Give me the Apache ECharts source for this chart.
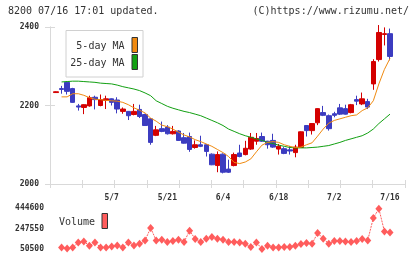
<!DOCTYPE html>
<html>
<head>
<meta charset="utf-8">
<script src="https://cdn.jsdelivr.net/npm/echarts@6/dist/echarts.min.js"></script>
<style>
  html, body { margin: 0; padding: 0; background: #fff; }
  #chart { width: 420px; height: 259px; }
</style>
</head>
<body>
<div id="chart"></div>
<script>
// trading days 2025/4/18 .. 7/16
const dates = ['4/18','4/21','4/22','4/23','4/24','4/25','4/28','4/30','5/1','5/2',
  '5/7','5/8','5/9','5/12','5/13','5/14','5/15','5/16','5/19','5/20',
  '5/21','5/22','5/23','5/26','5/27','5/28','5/29','5/30','6/2','6/3',
  '6/4','6/5','6/6','6/9','6/10','6/11','6/12','6/13','6/16','6/17',
  '6/18','6/19','6/20','6/23','6/24','6/25','6/26','6/27','6/30','7/1',
  '7/2','7/3','7/4','7/7','7/8','7/9','7/10','7/11','7/14','7/15','7/16']
const labelDates = ['5/7', '5/21', '6/4', '6/18', '7/2', '7/16']

const opens = [2233,2243,2259,2243,2199,2195,2199,2221,2200,2213,
  2217,2214,2185,2185,2177,2190,2177,2166,2124,2141,
  2145,2128,2135,2118,2121,2093,2100,2100,2076,2047,
  2076,2038,2047,2079,2075,2089,2109,2121,2109,2111,
  2089,2090,2087,2080,2093,2149,2136,2156,2182,2174,
  2179,2194,2192,2182,2215,2204,2210,2255,2317,2381,2383]
const closes = [2235,2241,2236,2208,2196,2202,2220,2215,2215,2217,
  2208,2191,2191,2174,2185,2172,2149,2106,2138,2134,
  2128,2134,2111,2104,2088,2100,2096,2083,2049,2075,
  2030,2030,2075,2070,2091,2119,2116,2109,2100,2094,
  2096,2078,2084,2094,2133,2136,2154,2192,2175,2141,
  2175,2178,2178,2202,2211,2217,2196,2312,2386,2383,2325]
const lows = [2232,2230,2228,2207,2187,2178,2197,2190,2198,2191,
  2200,2180,2179,2163,2175,2168,2148,2100,2122,2132,
  2126,2126,2110,2103,2082,2090,2094,2070,2048,2030,
  2027,2028,2045,2068,2073,2087,2100,2107,2090,2092,
  2075,2076,2075,2068,2092,2121,2126,2150,2173,2136,
  2170,2176,2177,2180,2201,2201,2191,2240,2312,2353,2315]
const highs = [2236,2250,2262,2245,2204,2203,2225,2225,2228,2225,
  2218,2221,2195,2186,2204,2202,2179,2168,2148,2159,
  2150,2148,2137,2130,2131,2111,2123,2102,2078,2083,
  2078,2062,2080,2100,2110,2130,2130,2131,2110,2128,
  2102,2094,2097,2100,2134,2150,2155,2193,2199,2177,
  2184,2204,2202,2204,2225,2233,2217,2318,2405,2399,2396]

const ma5 = ['-',2222,2222,2230,2230,2226,2220,2216,2215,2213,
  2212,2211,2208,2202,2194,2188,2181,2168,2160,2150,
  2146,2140,2132,2125,2120,2113,2108,2102,2096,2088,
  2080,2070,2055,2052,2056,2064,2082,2099,2106,2108,
  2106,2100,2096,2093,2094,2100,2105,2122,2140,2155,
  2162,2166,2170,2174,2176,2187,2194,2212,2255,2292,2320]
const ma25 = ['-',2260,2261,2262,2262,2261,2260,2259,2257,2256,
  2255,2252,2248,2245,2242,2238,2232,2225,2212,2205,
  2198,2193,2189,2185,2182,2178,2174,2168,2162,2156,
  2149,2140,2134,2128,2123,2119,2115,2111,2106,2103,
  2099,2096,2093,2092,2092,2092,2093,2094,2096,2098,
  2102,2106,2111,2115,2119,2123,2130,2140,2154,2166,2178]

const volumes = ['-',65900,56300,65900,113900,123600,82200,113900,65900,65900,
  75500,85100,65900,113900,85100,101400,133200,252400,133200,139900,
  117800,127400,139900,117800,226400,146600,117800,149900,165800,149500,
  139900,117800,117800,113900,101400,69700,113900,50500,82200,65900,
  65900,69700,69700,82200,98600,108200,101400,204300,149500,101400,
  127400,127400,123600,117800,127400,146600,133200,348500,437900,219700,210100]
const volTicks = [50500, 247550, 444600]

const candles = dates.map((d, i) => [opens[i], closes[i], lows[i], highs[i]])

const FONT = 'DejaVu Sans Mono'
const RED = '#d40000'
const BLUE = '#3c3cc0'
const ORANGE = '#f08a10'
const GREEN = '#12a012'
const VOL = '#ff5c5c'
const AXIS = '#d9d9d9'

const chart = echarts.init(document.getElementById('chart'), null, { renderer: 'canvas' })

const plain = v => String(v)

const tickX = (inside) => ({
  type: 'value', gridIndex: 1, position: 'bottom', min: 0, max: 11, interval: 1,
  axisLine: { show: true, lineStyle: { color: AXIS, width: 1 } },
  axisTick: { show: true, inside: inside, length: 4, lineStyle: { color: AXIS } },
  axisLabel: { show: false }, splitLine: { show: false }
})
const tickY = (inside, labels) => ({
  type: 'value', gridIndex: 1, position: 'left', min: 2000, max: 2400, interval: 200,
  axisLine: { show: true, lineStyle: { color: AXIS, width: 1 } },
  axisTick: { show: true, inside: inside, length: 5, lineStyle: { color: AXIS } },
  axisLabel: { show: labels, margin: 11, fontSize: 8, fontFamily: FONT, color: '#333', fontWeight: 'bold', formatter: plain },
  splitLine: { show: false }
})

chart.setOption({
  backgroundColor: '#fff',
  animation: false,
  grid: [
    { left: 56, right: 30, top: 27, bottom: 75 },
    { left: 50, right: 15, top: 27, bottom: 75 },
    { left: 56, right: 30, top: 208, bottom: 10 }
  ],
  xAxis: [
    {
      type: 'category', gridIndex: 0, data: dates, boundaryGap: false,
      axisLine: { show: false }, axisTick: { show: false }, splitLine: { show: false },
      axisLabel: {
        margin: 10, fontSize: 8, fontFamily: FONT, color: '#333', fontWeight: 'bold',
        interval: (i, v) => labelDates.includes(v)
      }
    },
    tickX(true),
    tickX(false),
    {
      type: 'category', gridIndex: 2, data: dates, boundaryGap: false,
      axisLine: { show: false }, axisTick: { show: false }, axisLabel: { show: false }
    }
  ],
  yAxis: [
    { type: 'value', gridIndex: 0, min: 2000, max: 2400, show: false },
    tickY(true, false),
    tickY(false, true),
    {
      type: 'value', gridIndex: 2, min: volTicks[0], max: volTicks[2], interval: volTicks[1] - volTicks[0],
      axisLine: { show: false }, axisTick: { show: false }, splitLine: { show: false },
      axisLabel: { margin: 12, fontSize: 8, fontFamily: FONT, color: '#333', fontWeight: 'bold', formatter: plain }
    }
  ],
  graphic: [
    { type: 'text', left: 8, top: 6, style: { text: '8200 07/16 17:01 updated.', font: '10px ' + FONT, fill: '#333' } },
    { type: 'text', right: 11, top: 6, style: { text: '(C)https://www.rizumu.net/', font: '10px ' + FONT, fill: '#333' } },
    { type: 'rect', shape: { x: 66, y: 30.5, width: 77, height: 46.5 }, style: { fill: '#fff', stroke: '#d0d0d0', lineWidth: 1 }, z: 50 },
    { type: 'text', x: 124.5, y: 46, style: { text: '5-day MA', font: '10px ' + FONT, fill: '#333', align: 'right', verticalAlign: 'middle' }, z: 51 },
    { type: 'text', x: 124.5, y: 63, style: { text: '25-day MA', font: '10px ' + FONT, fill: '#333', align: 'right', verticalAlign: 'middle' }, z: 51 },
    { type: 'rect', shape: { x: 132, y: 37.5, width: 5.5, height: 15 }, style: { fill: ORANGE, stroke: '#333', lineWidth: 1 }, z: 51 },
    { type: 'rect', shape: { x: 132, y: 54.5, width: 5.5, height: 15 }, style: { fill: GREEN, stroke: '#333', lineWidth: 1 }, z: 51 },
    { type: 'text', x: 59, y: 222, style: { text: 'Volume', font: '10px ' + FONT, fill: '#333', verticalAlign: 'middle' }, z: 51 },
    { type: 'rect', shape: { x: 102, y: 213.5, width: 5.5, height: 15 }, style: { fill: VOL, stroke: '#333', lineWidth: 1 }, z: 51 }
  ],
  series: [
    {
      type: 'line', xAxisIndex: 0, yAxisIndex: 0, data: ma25, symbol: 'none',
      lineStyle: { color: GREEN, width: 1 }
    },
    {
      type: 'line', xAxisIndex: 0, yAxisIndex: 0, data: ma5, symbol: 'none',
      lineStyle: { color: ORANGE, width: 1 }
    },
    {
      type: 'candlestick', xAxisIndex: 0, yAxisIndex: 0, data: candles, barWidth: 5, clip: false,
      itemStyle: { color: RED, color0: BLUE, borderColor: RED, borderColor0: BLUE, borderWidth: 1 }
    },
    {
      type: 'line', xAxisIndex: 3, yAxisIndex: 3, data: volumes,
      symbol: 'diamond', symbolSize: [7, 8], showAllSymbol: true, clip: false,
      itemStyle: { color: VOL },
      lineStyle: { color: VOL, width: 1, type: [2, 1] }
    }
  ]
})
</script>
</body>
</html>
